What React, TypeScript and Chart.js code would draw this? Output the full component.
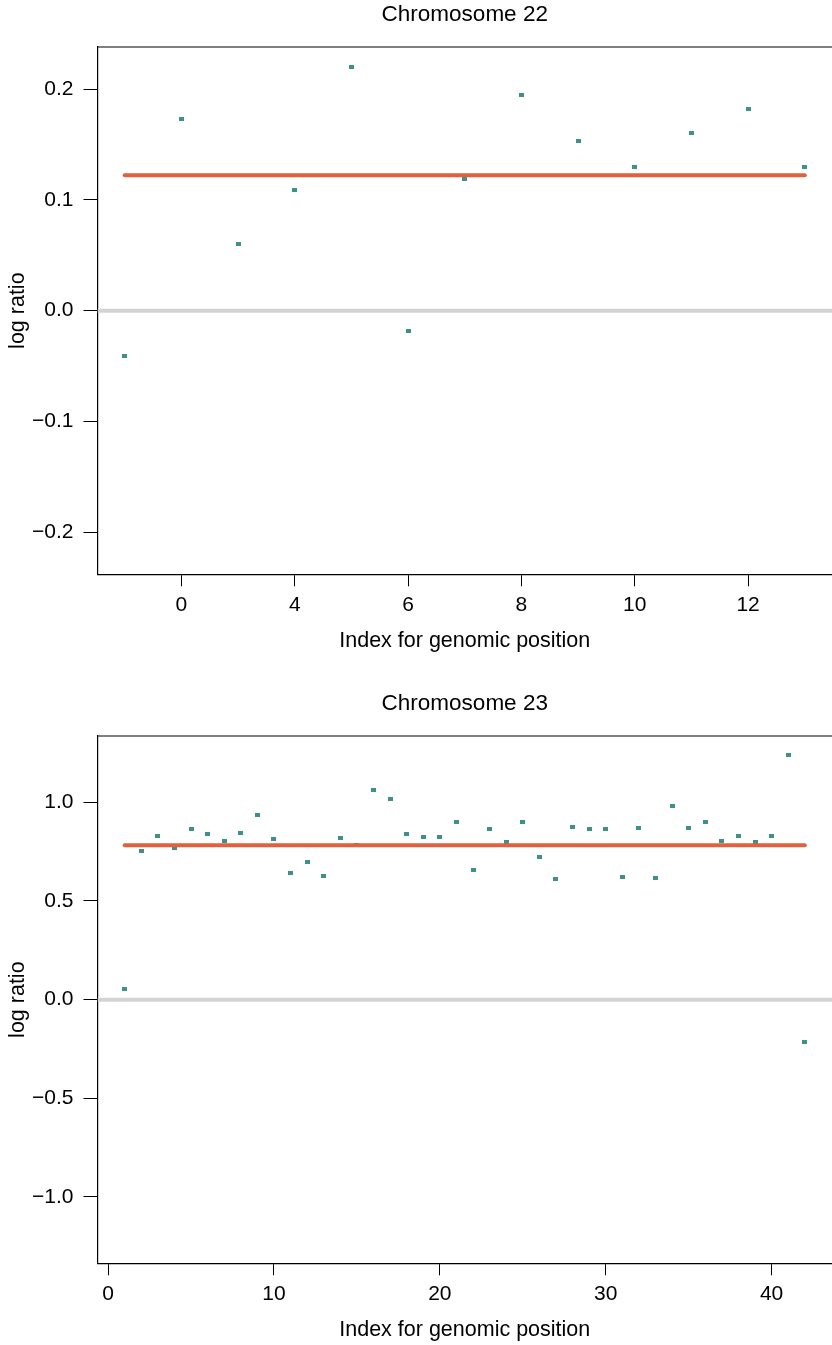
import React, { useEffect, useRef } from 'react';
import { Chart, registerables } from 'chart.js';

Chart.register(...registerables);

// ---------- Chromosome 22 ----------
const chr22Index = [1, 2, 3, 4, 5, 6, 7, 8, 9, 10, 11, 12, 13];
const chr22Values = [-0.041, 0.173, 0.060, 0.109, 0.220, -0.018, 0.119, 0.195, 0.153, 0.130, 0.160, 0.182, 0.130];
const chr22Mean = 0.1222;
const chr22XTicks = [2, 4, 6, 8, 10, 12];
const chr22XTickLabels = ['0', '4', '6', '8', '10', '12'];
const chr22YTicks = [-0.2, -0.1, 0, 0.1, 0.2];
const chr22YTickLabels = ['\u22120.2', '\u22120.1', '0.0', '0.1', '0.2'];
const chr22XRange = [0.52, 13.48];
const chr22YRange = [-0.238, 0.238];

// ---------- Chromosome 23 ----------
const chr23Index = [
  1, 2, 3, 4, 5, 6, 7, 8, 9, 10, 11, 12, 13, 14, 15, 16, 17, 18, 19, 20, 21,
  22, 23, 24, 25, 26, 27, 28, 29, 30, 31, 32, 33, 34, 35, 36, 37, 38, 39, 40, 41, 42,
];
const chr23Values = [
  0.056, 0.751, 0.827, 0.766, 0.863, 0.838, 0.802, 0.843, 0.934, 0.812, 0.640,
  0.695, 0.629, 0.817, 0.782, 1.061, 1.015, 0.838, 0.822, 0.822, 0.898, 0.655,
  0.863, 0.797, 0.898, 0.721, 0.609, 0.873, 0.863, 0.863, 0.624, 0.868, 0.614,
  0.980, 0.868, 0.898, 0.802, 0.827, 0.797, 0.827, 1.239, -0.213,
];
const chr23Mean = 0.782;
const chr23XTicks = [0, 10, 20, 30, 40];
const chr23XTickLabels = ['0', '10', '20', '30', '40'];
const chr23YTicks = [-1, -0.5, 0, 0.5, 1];
const chr23YTickLabels = ['\u22121.0', '\u22120.5', '0.0', '0.5', '1.0'];
const chr23XRange = [-0.64, 43.64];
const chr23YRange = [-1.336, 1.336];

const FONT = "'Liberation Sans', Arial, Helvetica, sans-serif";
const POINT_COLOR = '#3d9189';
const MEAN_COLOR = '#e0603f';
const ZERO_COLOR = '#d3d3d3';
const CANVAS_W = 832;
const CANVAS_H = 656;

function makeMarker(color: string) {
  const c = document.createElement('canvas');
  c.width = 5;
  c.height = 4;
  const g = c.getContext('2d')!;
  g.fillStyle = color;
  g.fillRect(0, 0, 5, 4);
  return c;
}

const boxPlugin = {
  id: 'topBorder',
  afterDraw(chart: any) {
    const { ctx, chartArea } = chart;
    ctx.save();
    ctx.strokeStyle = '#000';
    ctx.lineWidth = 1.2;
    ctx.beginPath();
    ctx.moveTo(chartArea.left, chartArea.top);
    ctx.lineTo(chartArea.right + 2, chartArea.top);
    ctx.stroke();
    ctx.restore();
  },
};

type PanelProps = {
  title: string;
  index: number[];
  values: number[];
  mean: number;
  xTicks: number[];
  xTickLabels: string[];
  yTicks: number[];
  yTickLabels: string[];
  xRange: number[];
  yRange: number[];
  top: number;
};

function Panel(props: PanelProps) {
  const ref = useRef<HTMLCanvasElement | null>(null);
  useEffect(() => {
    const canvas = ref.current!;
    const marker = makeMarker(POINT_COLOR);
    const pts = props.index.map((x, i) => ({ x, y: props.values[i] }));
    const meanLine = [
      { x: props.index[0], y: props.mean },
      { x: props.index[props.index.length - 1], y: props.mean },
    ];
    const zeroLine = [
      { x: props.xRange[0], y: 0 },
      { x: props.xRange[1], y: 0 },
    ];
    const chart = new Chart(canvas, {
      type: 'scatter',
      data: {
        datasets: [
          {
            data: meanLine,
            showLine: true,
            borderColor: MEAN_COLOR,
            borderWidth: 4,
            borderCapStyle: 'round',
            pointRadius: 0,
            pointHoverRadius: 0,
            order: 0,
          } as any,
          {
            data: zeroLine,
            showLine: true,
            borderColor: ZERO_COLOR,
            borderWidth: 4,
            pointRadius: 0,
            pointHoverRadius: 0,
            order: 1,
          } as any,
          {
            data: pts,
            pointStyle: marker,
            pointRadius: 2,
            pointHoverRadius: 2,
            backgroundColor: POINT_COLOR,
            borderWidth: 0,
            order: 2,
          } as any,
        ],
      },
      options: {
        animation: false,
        responsive: false,
        devicePixelRatio: 1,
        events: [],
        layout: { autoPadding: false, padding: { left: 0, right: 0, top: 0, bottom: 0 } },
        plugins: {
          legend: { display: false },
          tooltip: { enabled: false },
          title: {
            display: true,
            text: props.title,
            fullSize: false,
            color: '#000',
            font: { family: FONT, size: 22.5, weight: 'normal', lineHeight: 1.2 },
            padding: { top: 1.5, bottom: 18.5 },
          },
        },
        scales: {
          x: {
            type: 'linear',
            min: props.xRange[0],
            max: props.xRange[1],
            afterBuildTicks: (s: any) => {
              s.ticks = props.xTicks.map((v) => ({ value: v }));
            },
            afterFit: (s: any) => {
              s.height = CANVAS_H - 574.3;
            },
            ticks: {
              autoSkip: false,
              maxRotation: 0,
              padding: 6,
              color: '#000',
              font: { family: FONT, size: 21 },
              callback: (_v: any, i: number) => props.xTickLabels[i],
            },
            grid: {
              drawOnChartArea: false,
              drawTicks: true,
              tickLength: 12,
              color: '#000',
              tickColor: '#000',
              lineWidth: 1,
            },
            border: { display: true, color: '#000', width: 1.2 },
            title: {
              display: true,
              text: 'Index for genomic position',
              color: '#000',
              font: { family: FONT, size: 21.5, lineHeight: 1.2 },
              padding: { top: 0, bottom: 2 },
            },
          },
          y: {
            type: 'linear',
            min: props.yRange[0],
            max: props.yRange[1],
            afterBuildTicks: (s: any) => {
              s.ticks = props.yTicks.map((v) => ({ value: v }));
            },
            afterFit: (s: any) => {
              s.width = 97.5;
            },
            ticks: {
              autoSkip: false,
              padding: 10,
              color: '#000',
              font: { family: FONT, size: 21 },
              callback: (_v: any, i: number) => props.yTickLabels[i],
            },
            grid: {
              drawOnChartArea: false,
              drawTicks: true,
              tickLength: 14,
              color: '#000',
              tickColor: '#000',
              lineWidth: 1,
            },
            border: { display: true, color: '#000', width: 1.2 },
            title: {
              display: true,
              text: 'log ratio',
              color: '#000',
              font: { family: FONT, size: 21.5, lineHeight: 1.2 },
              padding: { top: 5, bottom: 0 },
            },
          },
        },
      },
      plugins: [boxPlugin],
    });
    return () => chart.destroy();
  }, []);
  return (
    <canvas
      ref={ref}
      width={CANVAS_W}
      height={CANVAS_H}
      style={{ position: 'absolute', left: 0, top: props.top, width: CANVAS_W, height: CANVAS_H }}
    />
  );
}

export default function App() {
  return (
    <div style={{ position: 'absolute', left: 0, top: 0, width: 832, height: 1345, background: '#fff' }}>
      <Panel
        title="Chromosome 22"
        index={chr22Index}
        values={chr22Values}
        mean={chr22Mean}
        xTicks={chr22XTicks}
        xTickLabels={chr22XTickLabels}
        yTicks={chr22YTicks}
        yTickLabels={chr22YTickLabels}
        xRange={chr22XRange}
        yRange={chr22YRange}
        top={0}
      />
      <Panel
        title="Chromosome 23"
        index={chr23Index}
        values={chr23Values}
        mean={chr23Mean}
        xTicks={chr23XTicks}
        xTickLabels={chr23XTickLabels}
        yTicks={chr23YTicks}
        yTickLabels={chr23YTickLabels}
        xRange={chr23XRange}
        yRange={chr23YRange}
        top={689}
      />
    </div>
  );
}
